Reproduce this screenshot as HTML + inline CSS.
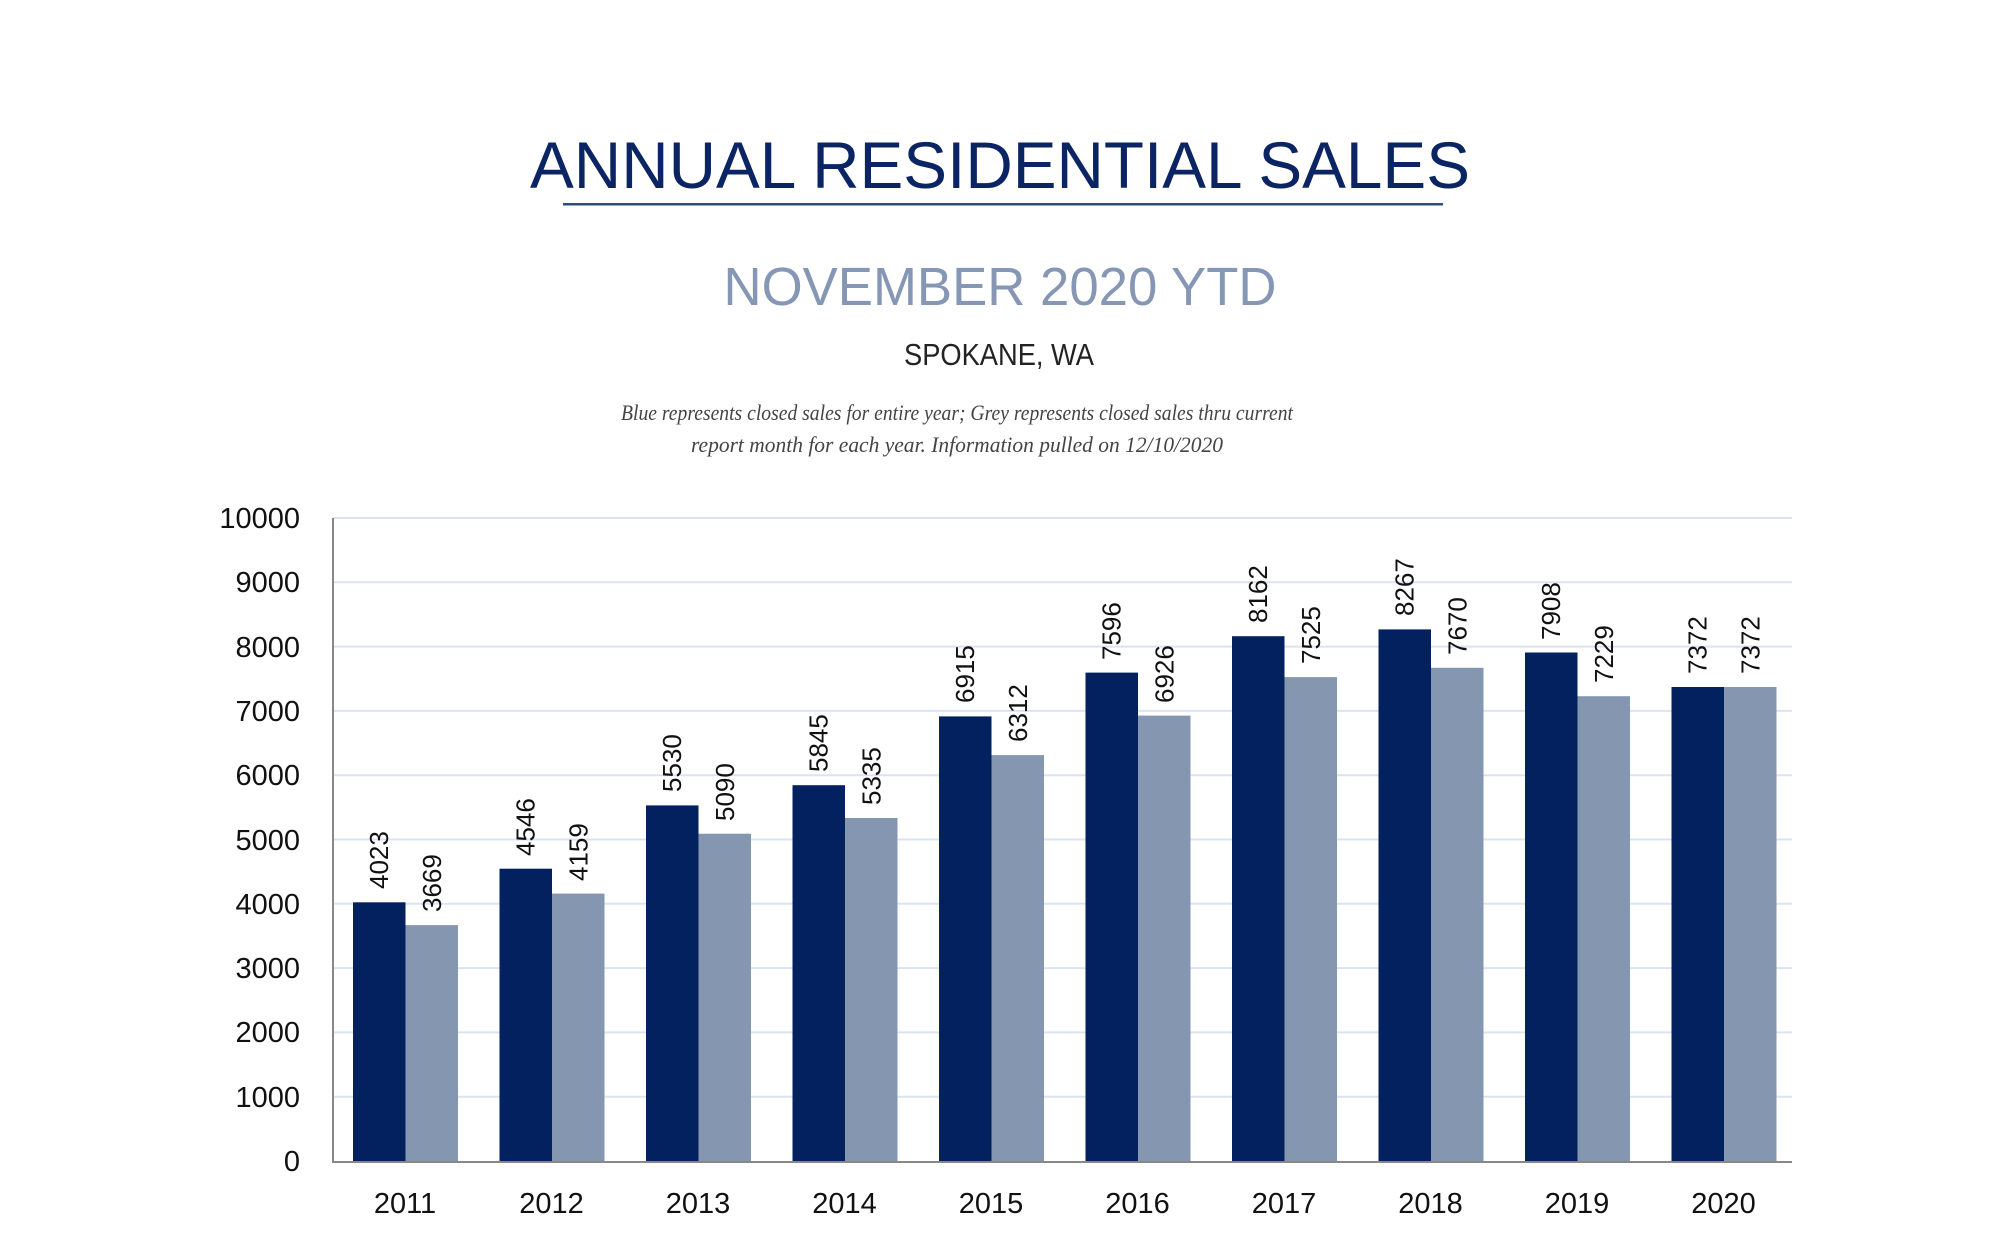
<!DOCTYPE html>
<html><head><meta charset="utf-8"><style>
html,body{margin:0;padding:0;background:#fff;}
svg{display:block;}
</style></head><body>
<svg width="2000" height="1250" viewBox="0 0 2000 1250" xmlns="http://www.w3.org/2000/svg">
<rect width="2000" height="1250" fill="#fff"/>
<text x="1000" y="188" text-anchor="middle" font-family="Liberation Sans, sans-serif" font-size="66" fill="#0b2463" textLength="940" lengthAdjust="spacingAndGlyphs">ANNUAL RESIDENTIAL SALES</text>
<rect x="563" y="203" width="880" height="2.5" fill="#2d4a8a"/>
<text x="1000" y="305" text-anchor="middle" font-family="Liberation Sans, sans-serif" font-size="54" fill="#8597b4" textLength="553" lengthAdjust="spacingAndGlyphs">NOVEMBER 2020 YTD</text>
<text x="999" y="365" text-anchor="middle" font-family="Liberation Sans, sans-serif" font-size="31" fill="#222" textLength="190" lengthAdjust="spacingAndGlyphs">SPOKANE, WA</text>
<text x="957" y="420" text-anchor="middle" font-family="Liberation Serif, serif" font-style="italic" font-size="22" fill="#444" textLength="672" lengthAdjust="spacingAndGlyphs">Blue represents closed sales for entire year; Grey represents closed sales thru current</text>
<text x="957" y="452" text-anchor="middle" font-family="Liberation Serif, serif" font-style="italic" font-size="22" fill="#444" textLength="532" lengthAdjust="spacingAndGlyphs">report month for each year.  Information pulled on 12/10/2020</text>
<g id="grid" stroke="#dbe3f3" stroke-width="2">
<line x1="333" x2="1792" y1="518" y2="518"/>
<line x1="333" x2="1792" y1="582.3" y2="582.3"/>
<line x1="333" x2="1792" y1="646.6" y2="646.6"/>
<line x1="333" x2="1792" y1="710.9" y2="710.9"/>
<line x1="333" x2="1792" y1="775.2" y2="775.2"/>
<line x1="333" x2="1792" y1="839.5" y2="839.5"/>
<line x1="333" x2="1792" y1="903.8" y2="903.8"/>
<line x1="333" x2="1792" y1="968.1" y2="968.1"/>
<line x1="333" x2="1792" y1="1032.4" y2="1032.4"/>
<line x1="333" x2="1792" y1="1096.7" y2="1096.7"/>
</g>
<g font-family="Liberation Sans, sans-serif" font-size="29" fill="#111" text-anchor="end">
<text x="300" y="528">10000</text><text x="300" y="592">9000</text><text x="300" y="657">8000</text><text x="300" y="721">7000</text><text x="300" y="785">6000</text><text x="300" y="850">5000</text><text x="300" y="914">4000</text><text x="300" y="978">3000</text><text x="300" y="1042">2000</text><text x="300" y="1107">1000</text><text x="300" y="1171">0</text>
</g>
<g id="bars"></g>
<line x1="333" y1="518" x2="333" y2="1162" stroke="#888" stroke-width="2"/>
<line x1="332" y1="1162" x2="1792" y2="1162" stroke="#888" stroke-width="2"/>
<g font-family="Liberation Sans, sans-serif" font-size="29" fill="#111" text-anchor="middle">
<text x="405" y="1213">2011</text><text x="551.5" y="1213">2012</text><text x="698" y="1213">2013</text><text x="844.5" y="1213">2014</text><text x="991" y="1213">2015</text><text x="1137.5" y="1213">2016</text><text x="1284" y="1213">2017</text><text x="1430.5" y="1213">2018</text><text x="1577" y="1213">2019</text><text x="1723.5" y="1213">2020</text>
</g>
<g font-family="Liberation Sans, sans-serif" font-size="26" fill="#111">
<!-- bars with labels -->
<rect x="353" y="902.3" width="52.5" height="258.7" fill="#03215e"/><rect x="405.5" y="925.1" width="52.5" height="235.9" fill="#8597b0"/>
<text transform="translate(388,889) rotate(-90)">4023</text><text transform="translate(441,912) rotate(-90)">3669</text>
<rect x="499.5" y="868.7" width="52.5" height="292.3" fill="#03215e"/><rect x="552" y="893.6" width="52.5" height="267.4" fill="#8597b0"/>
<text transform="translate(534.5,856) rotate(-90)">4546</text><text transform="translate(587.5,881) rotate(-90)">4159</text>
<rect x="646" y="805.4" width="52.5" height="355.6" fill="#03215e"/><rect x="698.5" y="833.7" width="52.5" height="327.3" fill="#8597b0"/>
<text transform="translate(681,792) rotate(-90)">5530</text><text transform="translate(734,821) rotate(-90)">5090</text>
<rect x="792.5" y="785.2" width="52.5" height="375.8" fill="#03215e"/><rect x="845" y="818" width="52.5" height="343" fill="#8597b0"/>
<text transform="translate(827.5,772) rotate(-90)">5845</text><text transform="translate(880.5,805) rotate(-90)">5335</text>
<rect x="939" y="716.4" width="52.5" height="444.6" fill="#03215e"/><rect x="991.5" y="755.1" width="52.5" height="405.9" fill="#8597b0"/>
<text transform="translate(974,703) rotate(-90)">6915</text><text transform="translate(1027,742) rotate(-90)">6312</text>
<rect x="1085.5" y="672.6" width="52.5" height="488.4" fill="#03215e"/><rect x="1138" y="715.6" width="52.5" height="445.4" fill="#8597b0"/>
<text transform="translate(1120.5,660) rotate(-90)">7596</text><text transform="translate(1173.5,703) rotate(-90)">6926</text>
<rect x="1232" y="636.2" width="52.5" height="524.8" fill="#03215e"/><rect x="1284.5" y="677.1" width="52.5" height="483.9" fill="#8597b0"/>
<text transform="translate(1267,623) rotate(-90)">8162</text><text transform="translate(1320,664) rotate(-90)">7525</text>
<rect x="1378.5" y="629.4" width="52.5" height="531.6" fill="#03215e"/><rect x="1431" y="667.8" width="52.5" height="493.2" fill="#8597b0"/>
<text transform="translate(1413.5,616) rotate(-90)">8267</text><text transform="translate(1466.5,655) rotate(-90)">7670</text>
<rect x="1525" y="652.5" width="52.5" height="508.5" fill="#03215e"/><rect x="1577.5" y="696.2" width="52.5" height="464.8" fill="#8597b0"/>
<text transform="translate(1560,640) rotate(-90)">7908</text><text transform="translate(1613,683) rotate(-90)">7229</text>
<rect x="1671.5" y="687" width="52.5" height="474" fill="#03215e"/><rect x="1724" y="687" width="52.5" height="474" fill="#8597b0"/>
<text transform="translate(1706.5,674) rotate(-90)">7372</text><text transform="translate(1759.5,674) rotate(-90)">7372</text>
</g>
</svg>
</body></html>
